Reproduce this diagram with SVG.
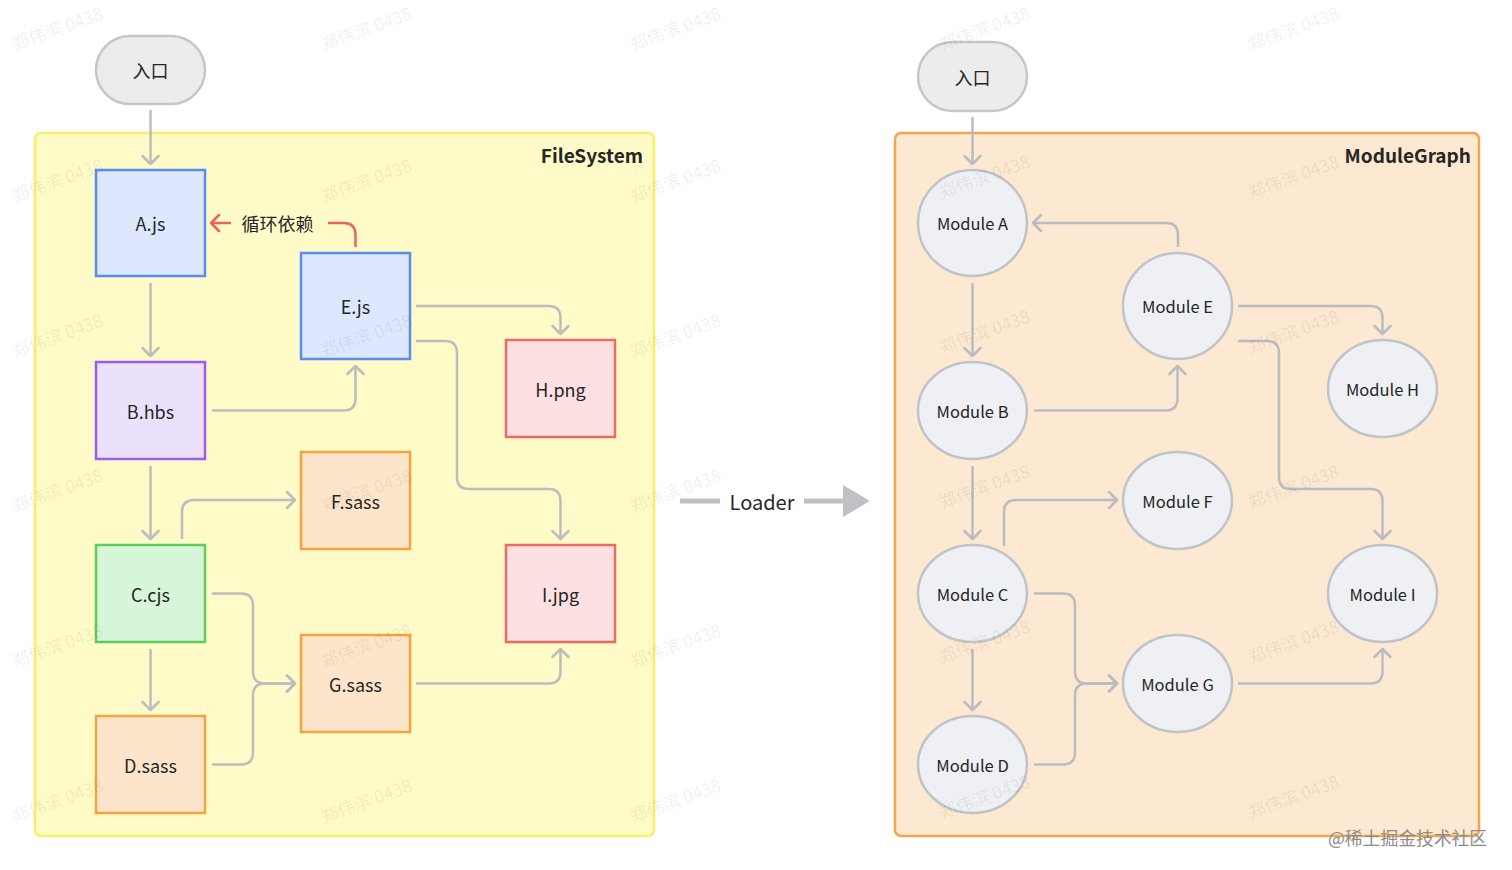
<svg xmlns="http://www.w3.org/2000/svg" width="1512" height="870" viewBox="0 0 1512 870">
<defs>
<style>
text{font-family:"Noto Sans CJK SC","Noto Sans",sans-serif;fill:#262626}
.lbl{font-size:18px;text-anchor:middle;dominant-baseline:central}
.mlbl{font-size:16.5px;text-anchor:middle;dominant-baseline:central}
.title{font-size:19px;font-weight:bold;text-anchor:end}
.wm{font-size:17.5px;fill:#000;fill-opacity:0.07;text-anchor:middle;dominant-baseline:central}
.blue{fill:#dde7fd;stroke:#5a8cf0;stroke-width:2.5}
.purple{fill:#ebe1fd;stroke:#9c5cf2;stroke-width:2.5}
.green{fill:#d7f5d8;stroke:#5ccf59;stroke-width:2.5}
.orange{fill:#fde5cc;stroke:#f7a33d;stroke-width:2.5}
.red{fill:#fde0e2;stroke:#ee6a62;stroke-width:2.5}
.pill{fill:#ececec;stroke:#c6c6c6;stroke-width:2.5}
.mod{fill:#eef0f3;stroke:#c0c3c8;stroke-width:2.5}
.edge{fill:none;stroke:#bdbdbd;stroke-width:2.5;marker-end:url(#arr)}
.edgeR{fill:none;stroke:#b9bcc2;stroke-width:2.5;marker-end:url(#arr2)}
.cyc{fill:none;stroke:#f06060;stroke-width:2.5}
</style>
<marker id="arr" viewBox="-10 -10 12 20" markerWidth="12" markerHeight="20" refX="0" refY="0" orient="auto" markerUnits="userSpaceOnUse">
<path d="M-8,-8 L0,0 L-8,8" fill="none" stroke="#bdbdbd" stroke-width="2.5" stroke-linecap="round" stroke-linejoin="round"/>
</marker>
<marker id="arr2" viewBox="-10 -10 12 20" markerWidth="12" markerHeight="20" refX="0" refY="0" orient="auto" markerUnits="userSpaceOnUse">
<path d="M-8,-8 L0,0 L-8,8" fill="none" stroke="#b9bcc2" stroke-width="2.5" stroke-linecap="round" stroke-linejoin="round"/>
</marker>
<marker id="arrRed" viewBox="-10 -10 12 20" markerWidth="12" markerHeight="20" refX="0" refY="0" orient="auto" markerUnits="userSpaceOnUse">
<path d="M-8,-8 L0,0 L-8,8" fill="none" stroke="#f06060" stroke-width="2.5" stroke-linecap="round" stroke-linejoin="round"/>
</marker>
</defs>
<rect width="1512" height="870" fill="#ffffff"/>

<!-- containers -->
<g id="FileSystem">
<rect x="35" y="133" width="619" height="703" rx="6" fill="#fefbc8" stroke="#fbef6a" stroke-width="2.5"/>
<text class="title" x="643" y="163">FileSystem</text>
</g>
<g id="ModuleGraph">
<rect x="895" y="133" width="584" height="703" rx="6" fill="#fde8d1" stroke="#f6a549" stroke-width="2.5"/>
<text class="title" x="1471" y="163">ModuleGraph</text>
</g>

<!-- left nodes -->
<g id="entryL"><rect class="pill" x="96" y="36" width="109" height="68" rx="34"/><text class="lbl" x="150.5" y="70">入口</text></g>
<g id="Ajs"><rect class="blue" x="96" y="170" width="109" height="106"/><text class="lbl" x="150.5" y="223">A.js</text></g>
<g id="Bhbs"><rect class="purple" x="96" y="362" width="109" height="97"/><text class="lbl" x="150.5" y="410.5">B.hbs</text></g>
<g id="Ccjs"><rect class="green" x="96" y="545" width="109" height="97"/><text class="lbl" x="150.5" y="593.5">C.cjs</text></g>
<g id="Dsass"><rect class="orange" x="96" y="716" width="109" height="97"/><text class="lbl" x="150.5" y="764.5">D.sass</text></g>
<g id="Ejs"><rect class="blue" x="301" y="253" width="109" height="106"/><text class="lbl" x="355.5" y="306">E.js</text></g>
<g id="Fsass"><rect class="orange" x="301" y="452" width="109" height="97"/><text class="lbl" x="355.5" y="500.5">F.sass</text></g>
<g id="Gsass"><rect class="orange" x="301" y="635" width="109" height="97"/><text class="lbl" x="355.5" y="683.5">G.sass</text></g>
<g id="Hpng"><rect class="red" x="506" y="340" width="109" height="97"/><text class="lbl" x="560.5" y="388.5">H.png</text></g>
<g id="Ijpg"><rect class="red" x="506" y="545" width="109" height="97"/><text class="lbl" x="560.5" y="593.5">I.jpg</text></g>

<!-- right nodes -->
<g id="entryR"><rect class="pill" x="918" y="42" width="109" height="69" rx="34.5"/><text class="lbl" x="972.5" y="77">入口</text></g>
<g id="ModA"><ellipse class="mod" cx="972.5" cy="223" rx="54.5" ry="53"/><text class="mlbl" x="972.5" y="223">Module A</text></g>
<g id="ModB"><ellipse class="mod" cx="972.5" cy="410.5" rx="54.5" ry="48.5"/><text class="mlbl" x="972.5" y="410.5">Module B</text></g>
<g id="ModC"><ellipse class="mod" cx="972.5" cy="593.5" rx="54.5" ry="48.5"/><text class="mlbl" x="972.5" y="593.5">Module C</text></g>
<g id="ModD"><ellipse class="mod" cx="972.5" cy="764.5" rx="54.5" ry="48.5"/><text class="mlbl" x="972.5" y="764.5">Module D</text></g>
<g id="ModE"><ellipse class="mod" cx="1177.5" cy="306" rx="54.5" ry="53"/><text class="mlbl" x="1177.5" y="306">Module E</text></g>
<g id="ModF"><ellipse class="mod" cx="1177.5" cy="500.5" rx="54.5" ry="48.5"/><text class="mlbl" x="1177.5" y="500.5">Module F</text></g>
<g id="ModG"><ellipse class="mod" cx="1177.5" cy="683.5" rx="54.5" ry="48.5"/><text class="mlbl" x="1177.5" y="683.5">Module G</text></g>
<g id="ModH"><ellipse class="mod" cx="1382.5" cy="388.5" rx="54.5" ry="48.5"/><text class="mlbl" x="1382.5" y="388.5">Module H</text></g>
<g id="ModI"><ellipse class="mod" cx="1382.5" cy="593.5" rx="54.5" ry="48.5"/><text class="mlbl" x="1382.5" y="593.5">Module I</text></g>

<!-- connectors -->
<g id="connectors">
<path class="edge" d="M150.5,110 V164"/>
<path class="edge" d="M150.5,283 V356"/>
<path class="edge" d="M150.5,466 V539"/>
<path class="edge" d="M150.5,649 V710"/>
<path class="edge" d="M212,410.5 H343.5 Q355.5,410.5 355.5,398.5 V366"/>
<path class="edge" d="M416,306 H548.5 Q560.5,306 560.5,318 V334"/>
<path class="edge" d="M416,341 H445 Q457,341 457,353 V477 Q457,489 469,489 H548.5 Q560.5,489 560.5,501 V539"/>
<path class="edge" d="M182,539 V512 Q182,500 194,500 H295"/>
<path class="edge" d="M212,593.5 H241 Q253,593.5 253,605.5 V671.5 Q253,683.5 265,683.5 H295"/>
<path class="edge" d="M212,764.5 H241 Q253,764.5 253,752.5 V695.5 Q253,683.5 265,683.5 H295"/>
<path class="edge" d="M416,683.5 H548.5 Q560.5,683.5 560.5,671.5 V649"/>
<path class="cyc" d="M355.5,247 V235 Q355.5,223 343.5,223 H328"/>
<path class="cyc" d="M231,223 H211" marker-end="url(#arrRed)"/>
<text class="lbl" x="277.5" y="223">循环依赖</text>

<path class="edgeR" d="M972.5,117 V164"/>
<path class="edgeR" d="M972.5,283 V356"/>
<path class="edgeR" d="M972.5,466 V539"/>
<path class="edgeR" d="M972.5,649 V710"/>
<path class="edgeR" d="M1178,247 V235 Q1178,223 1166,223 H1033"/>
<path class="edgeR" d="M1034,410.5 H1165.5 Q1177.5,410.5 1177.5,398.5 V366"/>
<path class="edgeR" d="M1238,306 H1370.5 Q1382.5,306 1382.5,318 V334"/>
<path class="edgeR" d="M1238,341 H1267 Q1279,341 1279,353 V477 Q1279,489 1291,489 H1370.5 Q1382.5,489 1382.5,501 V539"/>
<path class="edgeR" d="M1004,546 V512 Q1004,500 1016,500 H1117"/>
<path class="edgeR" d="M1034,593.5 H1063 Q1075,593.5 1075,605.5 V671.5 Q1075,683.5 1087,683.5 H1117"/>
<path class="edgeR" d="M1034,764.5 H1063 Q1075,764.5 1075,752.5 V695.5 Q1075,683.5 1087,683.5 H1117"/>
<path class="edgeR" d="M1238,683.5 H1370.5 Q1382.5,683.5 1382.5,671.5 V649"/>

<path d="M680,501 H720 M804,501 H845" stroke="#bfc1c5" stroke-width="5" fill="none"/>
<path d="M843,485 L870,501 L843,517 Z" fill="#bfc1c5"/>
<text x="762" y="501" style="font-size:20px;text-anchor:middle;dominant-baseline:central">Loader</text>
</g>

<!-- watermarks -->
<g id="watermarks">
<text class="wm" x="57" y="28" transform="rotate(-20 57 28)">郑伟滨 0438</text>
<text class="wm" x="366" y="28" transform="rotate(-20 366 28)">郑伟滨 0438</text>
<text class="wm" x="675" y="28" transform="rotate(-20 675 28)">郑伟滨 0438</text>
<text class="wm" x="984" y="28" transform="rotate(-20 984 28)">郑伟滨 0438</text>
<text class="wm" x="1293" y="28" transform="rotate(-20 1293 28)">郑伟滨 0438</text>
<text class="wm" x="57" y="180" transform="rotate(-20 57 180)">郑伟滨 0438</text>
<text class="wm" x="366" y="180" transform="rotate(-20 366 180)">郑伟滨 0438</text>
<text class="wm" x="675" y="180" transform="rotate(-20 675 180)">郑伟滨 0438</text>
<text class="wm" x="984" y="176" transform="rotate(-20 984 176)">郑伟滨 0438</text>
<text class="wm" x="1293" y="176" transform="rotate(-20 1293 176)">郑伟滨 0438</text>
<text class="wm" x="57" y="335" transform="rotate(-20 57 335)">郑伟滨 0438</text>
<text class="wm" x="366" y="335" transform="rotate(-20 366 335)">郑伟滨 0438</text>
<text class="wm" x="675" y="335" transform="rotate(-20 675 335)">郑伟滨 0438</text>
<text class="wm" x="984" y="331" transform="rotate(-20 984 331)">郑伟滨 0438</text>
<text class="wm" x="1293" y="331" transform="rotate(-20 1293 331)">郑伟滨 0438</text>
<text class="wm" x="57" y="490" transform="rotate(-20 57 490)">郑伟滨 0438</text>
<text class="wm" x="366" y="490" transform="rotate(-20 366 490)">郑伟滨 0438</text>
<text class="wm" x="675" y="490" transform="rotate(-20 675 490)">郑伟滨 0438</text>
<text class="wm" x="984" y="486" transform="rotate(-20 984 486)">郑伟滨 0438</text>
<text class="wm" x="1293" y="486" transform="rotate(-20 1293 486)">郑伟滨 0438</text>
<text class="wm" x="57" y="645" transform="rotate(-20 57 645)">郑伟滨 0438</text>
<text class="wm" x="366" y="645" transform="rotate(-20 366 645)">郑伟滨 0438</text>
<text class="wm" x="675" y="645" transform="rotate(-20 675 645)">郑伟滨 0438</text>
<text class="wm" x="984" y="641" transform="rotate(-20 984 641)">郑伟滨 0438</text>
<text class="wm" x="1293" y="641" transform="rotate(-20 1293 641)">郑伟滨 0438</text>
<text class="wm" x="57" y="800" transform="rotate(-20 57 800)">郑伟滨 0438</text>
<text class="wm" x="366" y="800" transform="rotate(-20 366 800)">郑伟滨 0438</text>
<text class="wm" x="675" y="800" transform="rotate(-20 675 800)">郑伟滨 0438</text>
<text class="wm" x="984" y="796" transform="rotate(-20 984 796)">郑伟滨 0438</text>
<text class="wm" x="1293" y="796" transform="rotate(-20 1293 796)">郑伟滨 0438</text>
</g>
<text x="1328" y="837" style="font-size:17.8px;fill:#8c8c8c;dominant-baseline:central">@稀土掘金技术社区</text>
</svg>
